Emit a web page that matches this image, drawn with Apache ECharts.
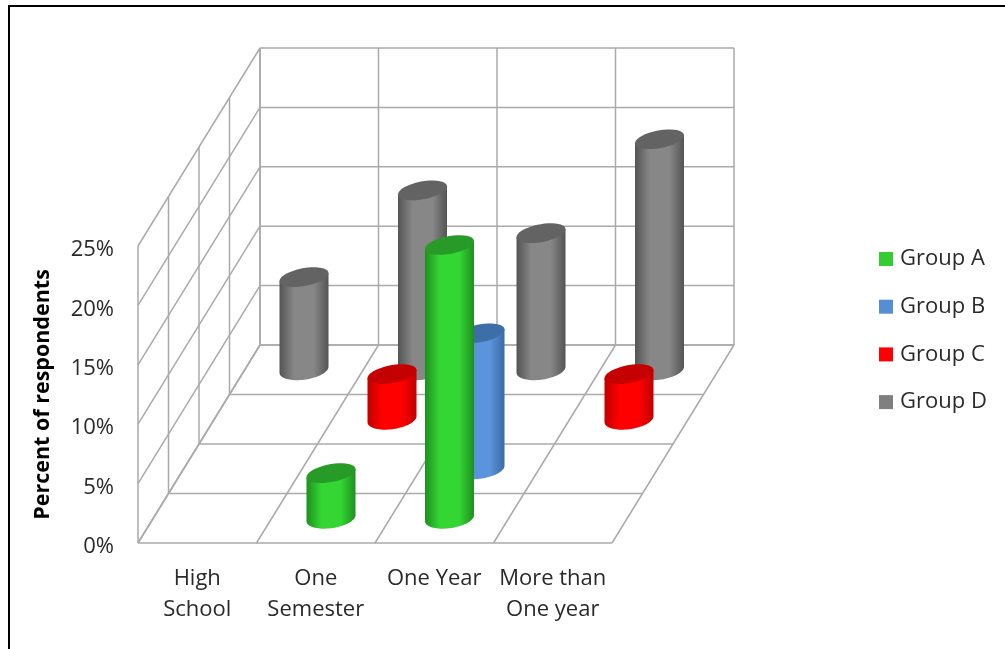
<!DOCTYPE html>
<html>
<head>
<meta charset="utf-8">
<style>html,body{margin:0;padding:0;background:#fff}#c{width:1005px;height:649px;filter:blur(0.45px)}</style>
<script src="https://cdn.jsdelivr.net/npm/echarts@6/dist/echarts.min.js"></script>
</head>
<body>
<div id="c"></div>
<script>
const categories = ['High\nSchool', 'One\nSemester', 'One Year', 'More than\nOne year'];
const ticks = [0, 5, 10, 15, 20, 25];
const depthSlots = [0, 1, 2, 3, 4];
const groupA = [null, 3.8, 23, null];
const groupB = [null, null, 11.4, null];
const groupC = [null, 3.8, null, 3.8];
const groupD = [7.8, 15.1, 11.5, 19.4];

const DX = 30.5, DY = -49.5;          // projection of one depth slot
const RX = 24.5;
const TILT = 4;
const lineStyle = { stroke: '#aaaaaa', lineWidth: 1.5, fill: null };
const FONT = 'Open Sans';

const chart = echarts.init(document.getElementById('c'), null, { renderer: 'canvas' });

function line(a, b) {
  return { type: 'line', shape: { x1: a[0], y1: a[1], x2: b[0], y2: b[1] }, style: lineStyle, silent: true };
}
function renderWalls(params, api) {
  const v = api.value(0);
  const band = api.size([1, 0])[0];
  const edge = (i, val, d) => {
    const p = api.coord([0, val]);
    return [p[0] + (i - 0.5) * band + d * DX, p[1] + d * DY];
  };
  const kids = [];
  kids.push(line(edge(0, v, 0), edge(0, v, 4)));
  kids.push(line(edge(0, v, 4), edge(4, v, 4)));
  if (params.dataIndex === 0) {
    const top = ticks[ticks.length - 1];
    depthSlots.forEach(d => {
      kids.push(line(edge(0, 0, d), edge(0, top, d)));
      kids.push(line(edge(0, 0, d), edge(4, 0, d)));
      kids.push(line(edge(d, 0, 0), edge(d, 0, 4)));
      kids.push(line(edge(d, 0, 4), edge(d, top, 4)));
    });
  }
  return { type: 'group', children: kids };
}
function ellipsePts(cx, cy, ry, tilt, from, to) {
  const pts = [], n = 40;
  for (let k = 0; k <= n; k++) {
    const t = from + (to - from) * k / n;
    pts.push([cx + RX * Math.cos(t), cy + ry * Math.sin(t) - tilt * Math.cos(t)]);
  }
  return pts;
}
function cylinderRenderer(slot, side, mid, cap) {
  return function (params, api) {
    const base = api.coord([api.value(0), 0]);
    const top = api.coord([api.value(0), api.value(1)]);
    const dx = (slot + 0.5) * DX, dy = (slot + 0.5) * DY;
    const cx = base[0] + dx, by = base[1] + dy, ty = top[1] + dy;
    const lower = ellipsePts(cx, by, 10, 3, Math.PI, 0);
    const body = [[cx - RX, ty + TILT]].concat(lower).concat([[cx + RX, ty - TILT]]);
    return {
      type: 'group',
      children: [
        {
          type: 'polygon', shape: { points: body },
          style: {
            fill: {
              type: 'linear', x: 0, y: 0, x2: 1, y2: 0,
              colorStops: [
                { offset: 0, color: side }, { offset: 0.3, color: mid },
                { offset: 0.7, color: mid }, { offset: 1, color: side }
              ]
            }
          }
        },
        { type: 'polygon', shape: { points: ellipsePts(cx, ty, 9, TILT, 0, Math.PI * 2) }, style: { fill: cap } }
      ]
    };
  };
}
function rows(values) {
  return values.map((v, i) => [i, v]).filter(r => r[1] !== null);
}
function cylSeries(name, values, slot, legendColor, side, mid, cap) {
  return {
    name, type: 'custom', coordinateSystem: 'cartesian2d', data: rows(values),
    encode: { x: 0, y: 1 }, clip: false, silent: true, z: 10 + (4 - slot),
    itemStyle: { color: legendColor },
    renderItem: cylinderRenderer(slot, side, mid, cap)
  };
}

chart.setOption({
  animation: false,
  backgroundColor: '#fff',
  textStyle: { fontFamily: FONT },
  grid: { left: 138, top: 246, width: 474, height: 297, containLabel: false },
  xAxis: {
    type: 'category', data: categories,
    axisLine: { show: false }, axisTick: { show: false }, splitLine: { show: false },
    axisLabel: { color: '#2a2a2a', fontSize: 22, fontFamily: FONT, lineHeight: 31, margin: 20, interval: 0 }
  },
  yAxis: {
    type: 'value', min: 0, max: 25, interval: 5,
    axisLine: { show: false }, axisTick: { show: false }, splitLine: { show: false },
    axisLabel: { formatter: '{value}%', color: '#2a2a2a', fontSize: 22, fontFamily: FONT, margin: 24, verticalAlign: 'top', lineHeight: 8 },
    name: 'Percent of respondents', nameLocation: 'middle', nameGap: 84, nameRotate: 90,
    nameTextStyle: { color: '#000', fontWeight: 'bold', fontSize: 21.5, fontFamily: FONT }
  },
  legend: {
    orient: 'vertical', left: 874, top: 243, itemWidth: 14, itemHeight: 14, itemGap: 25.7, icon: 'rect',
    data: ['Group A', 'Group B', 'Group C', 'Group D'],
    textStyle: { color: '#2a2a2a', fontSize: 22, fontFamily: FONT, padding: [0, 0, 0, 2] }
  },
  graphic: [
    { type: 'line', shape: { x1: 8, y1: 6, x2: 1005, y2: 6 }, style: { stroke: '#000', lineWidth: 2 }, silent: true },
    { type: 'line', shape: { x1: 9, y1: 6, x2: 9, y2: 649 }, style: { stroke: '#000', lineWidth: 2 }, silent: true }
  ],
  series: [
    { name: 'walls', type: 'custom', coordinateSystem: 'cartesian2d', data: ticks.map(t => [t]), encode: { y: 0 }, clip: false, silent: true, z: 1, renderItem: renderWalls },
    cylSeries('Group D', groupD, 3, '#7f7f7f', '#545454', '#878787', '#636363'),
    cylSeries('Group C', groupC, 2, '#ff0000', '#c00000', '#ff0000', '#c40000'),
    cylSeries('Group B', groupB, 1, '#558ed5', '#3a6aa5', '#5a94dc', '#3d6ea8'),
    cylSeries('Group A', groupA, 0, '#33cc33', '#1f8f1f', '#33d633', '#279a27')
  ]
});
</script>
</body>
</html>
